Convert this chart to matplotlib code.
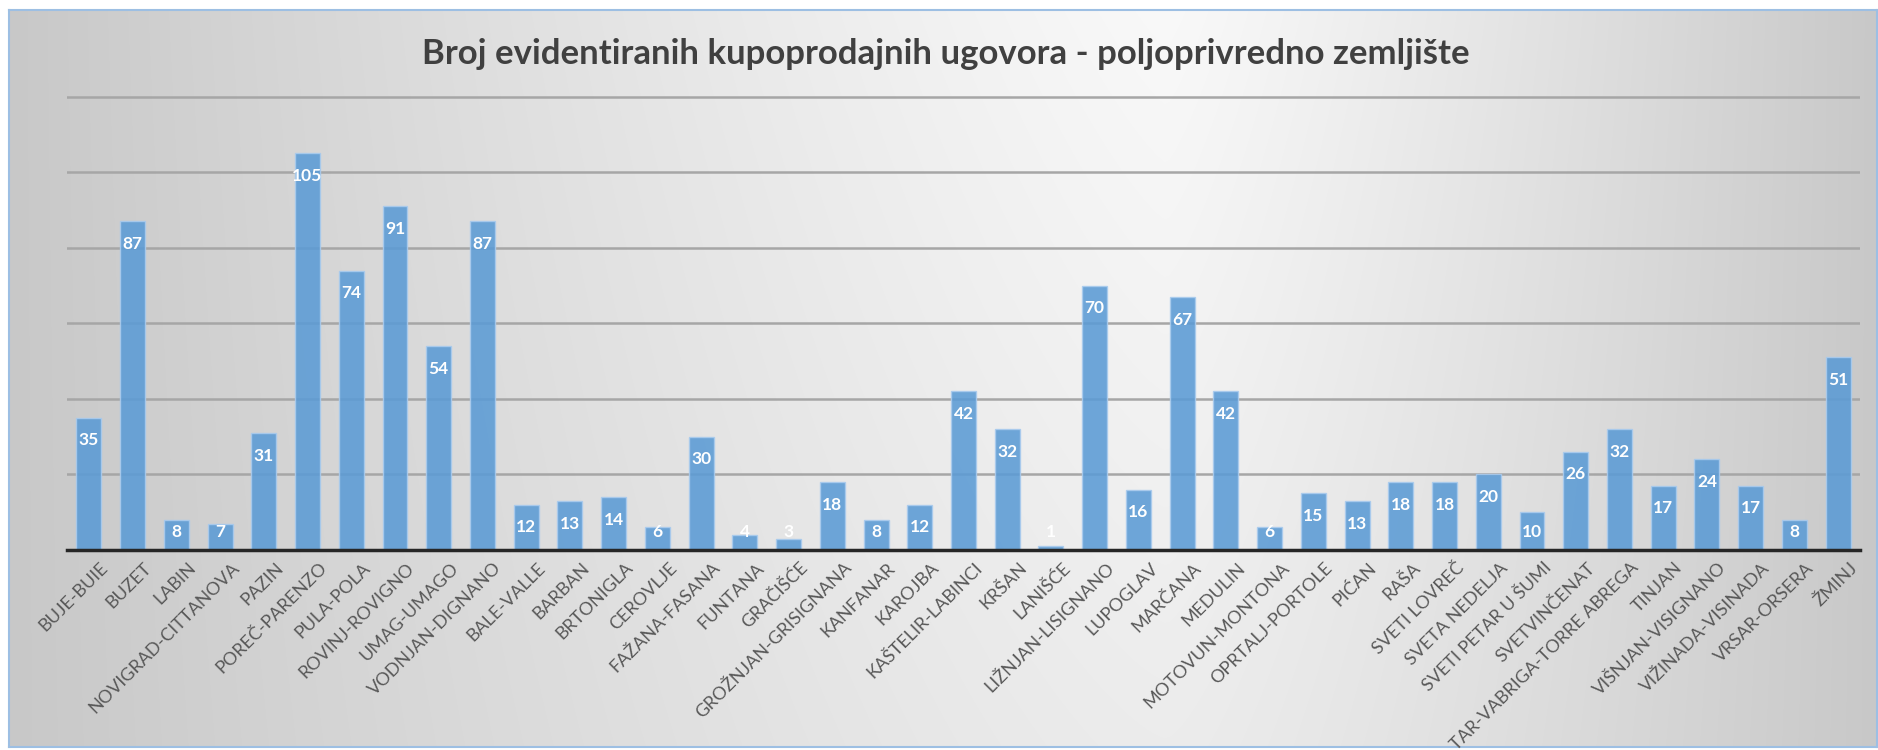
import numpy as np
import matplotlib
matplotlib.use("Agg")
import matplotlib.pyplot as plt
from matplotlib.transforms import ScaledTranslation

plt.rcParams["font.family"] = ["Lato", "DejaVu Sans"]

title = "Broj evidentiranih kupoprodajnih ugovora - poljoprivredno zemljište"

municipalities = [
    "BUJE-BUIE", "BUZET", "LABIN", "NOVIGRAD-CITTANOVA", "PAZIN",
    "POREČ-PARENZO", "PULA-POLA", "ROVINJ-ROVIGNO", "UMAG-UMAGO",
    "VODNJAN-DIGNANO", "BALE-VALLE", "BARBAN", "BRTONIGLA", "CEROVLJE",
    "FAŽANA-FASANA", "FUNTANA", "GRAČIŠĆE", "GROŽNJAN-GRISIGNANA",
    "KANFANAR", "KAROJBA", "KAŠTELIR-LABINCI", "KRŠAN", "LANIŠĆE",
    "LIŽNJAN-LISIGNANO", "LUPOGLAV", "MARČANA", "MEDULIN",
    "MOTOVUN-MONTONA", "OPRTALJ-PORTOLE", "PIĆAN", "RAŠA", "SVETI LOVREČ",
    "SVETA NEDELJA", "SVETI PETAR U ŠUMI", "SVETVINČENAT",
    "TAR-VABRIGA-TORRE ABREGA", "TINJAN", "VIŠNJAN-VISIGNANO",
    "VIŽINADA-VISINADA", "VRSAR-ORSERA", "ŽMINJ",
]
contracts = [
    35, 87, 8, 7, 31, 105, 74, 91, 54, 87, 12, 13, 14, 6, 30, 4, 3, 18,
    8, 12, 42, 32, 1, 70, 16, 67, 42, 6, 15, 13, 18, 18, 20, 10, 26, 32,
    17, 24, 17, 8, 51,
]

W, H = 1878, 750
fig = plt.figure(figsize=(W / 100, H / 100), dpi=100)
fig.patch.set_facecolor("white")

# background panel with a soft grey gradient (light in the middle, grey at the sides)
bg = fig.add_axes([9 / W, 3 / H, 1 - 10 / W, 1 - 13 / H])
gx = np.linspace(0, 1, 400)
gy = np.linspace(0, 1, 200)
XX, YY = np.meshgrid(gx, gy)
dist = np.where(XX < 0.62, (0.62 - XX) / 0.62, (XX - 0.62) / 0.38)
shade = 0.975 - 0.19 * dist ** 1.2 - 0.05 * YY * (1 - dist)
bg.imshow(np.dstack([shade] * 3), aspect="auto", extent=[0, 1, 0, 1],
          origin="upper", interpolation="bilinear")
bg.set_xticks([])
bg.set_yticks([])
for s in bg.spines.values():
    s.set_color("#9dbfe3")
    s.set_linewidth(1.5)

ax = fig.add_axes([67 / W, 200 / H, 1793 / W, 457 / H])
ax.patch.set_alpha(0)
x = np.arange(len(municipalities))
ax.bar(x, contracts, width=0.57, color="#5B9BD5", alpha=0.88,
       edgecolor="#a9cbee", linewidth=1.0, zorder=3)

for xi, v in zip(x, contracts):
    ax.text(xi, max(v - 6.0, 4.8), str(v), ha="center", va="center",
            color="white", fontsize=12.5, fontweight="bold", zorder=4)

ax.set_xlim(-0.5, len(municipalities) - 0.5)
ax.set_ylim(0, 121)
ax.set_yticks([20, 40, 60, 80, 100, 120])
ax.yaxis.grid(True, color="#a6a6a6", linewidth=1.8, zorder=1)
ax.tick_params(axis="y", left=False, labelleft=False)
ax.set_xticks(x)
ax.set_xticklabels(municipalities, rotation=45, ha="right",
                   rotation_mode="anchor", fontsize=13, color="#595959")
ax.tick_params(axis="x", length=0, pad=7)
shift = ScaledTranslation(8 / 72, 0, fig.dpi_scale_trans)
for lab in ax.get_xticklabels():
    lab.set_transform(lab.get_transform() + shift)
for side in ["top", "right", "left"]:
    ax.spines[side].set_visible(False)
ax.spines["bottom"].set_color("#262626")
ax.spines["bottom"].set_linewidth(2.5)
ax.spines["bottom"].set_zorder(5)

fig.text(946 / W, 1 - 54 / H, title, ha="center", va="center",
         fontsize=25, fontweight="bold", color="#404040")

fig.savefig("out.png", dpi=100)
